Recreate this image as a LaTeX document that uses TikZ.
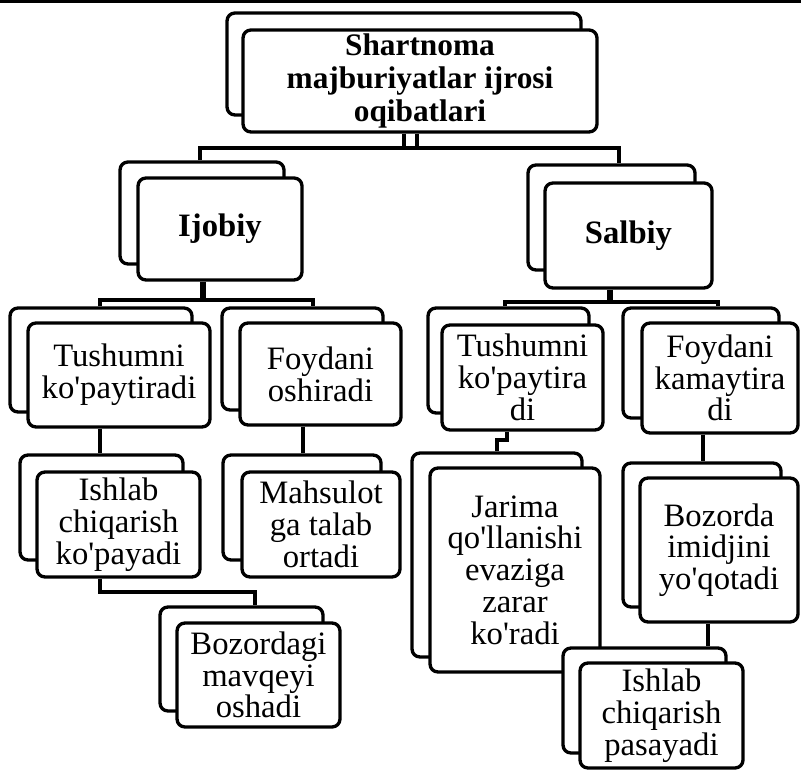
\documentclass[tikz,border=0pt]{standalone}
\usepackage{fontspec}
\newfontfamily\boxfont{Liberation Serif}
\tikzset{
  x=0.75pt, y=-0.75pt,
  box/.style={draw, line width=2.5pt, rounded corners=6pt, fill=white,
    inner sep=0pt, align=center, font=\boxfont\fontsize{24.5}{23.8}\selectfont},
  headbox/.style={box, font=\boxfont\bfseries\fontsize{23.5}{24.5}\selectfont},
  labelbox/.style={box, font=\boxfont\bfseries\fontsize{24.5}{24.5}\selectfont},
  conn/.style={line width=2.4pt},
  thickconn/.style={line width=4.2pt},
}
% a stacked pair: back card (name-b) shifted by (#7,#8), front card (name) with text
\newcommand\cardpair[9][box]{%
  \node[#1, minimum width={(#5-#3)*0.75pt}, minimum height={(#6-#4)*0.75pt}]
    (#2-b) at ({(#3+#5)/2+#7},{(#4+#6)/2+#8}) {};
  \node[#1, minimum width={(#5-#3)*0.75pt}, minimum height={(#6-#4)*0.75pt}]
    (#2) at ({(#3+#5)/2},{(#4+#6)/2}) {#9};
}
\newcommand\ap{\char"0027}
\begin{document}
\begin{tikzpicture}
\fill[white] (0,0) rectangle (801,770);
\useasboundingbox (0,0) rectangle (801,770);

% page rule
\draw[line width=1.6pt] (0,1.5) -- (801,1.5);

% cards
\cardpair[headbox]{top}{243}{30}{597}{132}{-16}{-17}{Shartnoma\\majburiyatlar ijrosi\\oqibatlari}
\cardpair[labelbox]{Ijobiy}{138}{178}{302}{280}{-18}{-16}{Ijobiy}
\cardpair[labelbox]{Salbiy}{545}{183}{712}{288}{-17}{-18}{Salbiy}

\cardpair{TushL}{28}{323}{210}{427}{-18}{-15}{Tushumni\\ko\ap paytiradi}
\cardpair{FoyL}{240}{323}{401}{425}{-18}{-15}{Foydani\\oshiradi}
\cardpair{TushR}{442}{325}{603}{430}{-14}{-17}{Tushumni\\ko\ap paytira\\di}
\cardpair{FoyR}{642}{323}{798}{433}{-19}{-15}{Foydani\\kamaytira\\di}

\cardpair{IshL}{37}{472}{200}{577}{-17}{-17}{Ishlab\\chiqarish\\ko\ap payadi}
\cardpair{MahL}{242}{472}{400}{577}{-19}{-17}{Mahsulot\\ga talab\\ortadi}
\cardpair{BozL}{177}{623}{340}{727}{-17}{-16}{Bozordagi\\mavqeyi\\oshadi}

\cardpair{Jarima}{430}{468}{600}{672}{-18}{-15}{Jarima\\qo\ap llanishi\\evaziga\\zarar\\ko\ap radi}
\cardpair{BozR}{640}{478}{798}{622}{-17}{-15}{Bozorda\\imidjini\\yo\ap qotadi}
\cardpair{IshR}{580}{663}{743}{768}{-17}{-15}{Ishlab\\chiqarish\\pasayadi}

% connectors from the head card
\coordinate (t1) at (404,148);
\coordinate (t2) at (417,148);
\coordinate (h1) at (200,148);
\coordinate (h2) at (619,148);
\draw[conn] (t1 |- top.south) -- (t1);
\draw[conn] (t2 |- top.south) -- (t2);
\draw[conn] (h1 |- Ijobiy-b.north) -- (h1) -- (h2) -- (h2 |- Salbiy-b.north);

% Ijobiy branch
\coordinate (i0) at (203,300);
\coordinate (i1) at (100,300);
\coordinate (i2) at (313,300);
\draw[thickconn] (i0 |- Ijobiy.south) -- (i0);
\draw[conn] (i1 |- TushL-b.north) -- (i1) -- (i2) -- (i2 |- FoyL-b.north);

% Salbiy branch
\coordinate (s0) at (610,302);
\coordinate (s1) at (505,302);
\coordinate (s2) at (718,302);
\draw[thickconn] (s0 |- Salbiy.south) -- (s0);
\draw[conn] (s1 |- TushR-b.north) -- (s1) -- (s2) -- (s2 |- FoyR-b.north);

% lower links, left side
\coordinate (m0) at (303,440);
\coordinate (b1) at (100,592);
\coordinate (b2) at (255,592);
\draw[conn] (TushL.south -| i1) -- (IshL-b.north -| i1);
\draw[conn] (FoyL.south -| m0) -- (MahL-b.north -| m0);
\draw[conn] (IshL.south -| b1) -- (b1) -- (b2) -- (BozL-b.north -| b2);

% lower links, right side
\coordinate (j1) at (507,440);
\coordinate (j2) at (497,440);
\coordinate (r1) at (703,450);
\coordinate (r2) at (708,635);
\draw[conn] (TushR.south -| j1) -- (j1) -- (j2) -- (Jarima-b.north -| j2);
\draw[conn] (FoyR.south -| r1) -- (BozR-b.north -| r1);
\draw[conn] (BozR.south -| r2) -- (IshR-b.north -| r2);
\end{tikzpicture}
\end{document}
